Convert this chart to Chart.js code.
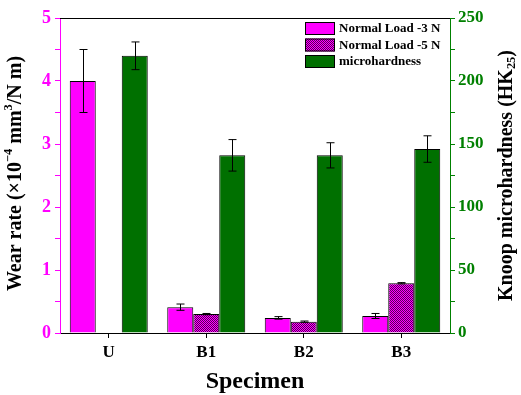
<!DOCTYPE html>
<html lang="en">
<head>
    <meta charset="UTF-8">
    <title>Wear rate and microhardness</title>
    <script src="https://cdnjs.cloudflare.com/ajax/libs/chart.js/4.4.1/chart.umd.min.js"></script>
    <style>
        html, body {
            margin: 0;
            padding: 0;
            background: #fff;
        }

        .canvas-container {
            position: relative;
            width: 521px;
            height: 395px;
        }
    </style>
</head>
<body>
    <div class="canvas-container">
        <canvas id="wearChart"></canvas>
    </div>

    <script>
        // Data
        const specimens = ['U', 'B1', 'B2', 'B3'];

        const wear3N = [4.0, 0.41, 0.24, 0.27];
        const wear3NErr = [0.5, 0.05, 0.02, 0.04];

        const wear5N = [null, 0.30, 0.18, 0.79];
        const wear5NErr = [0, 0.01, 0.01, 0.01];

        const hardness = [220, 141, 141, 146];
        const hardnessErr = [11, 12.5, 10, 10.5];

        const leftTicks = [0, 1, 2, 3, 4, 5];
        const rightTicks = [0, 50, 100, 150, 200, 250];

        const MAGENTA = '#ff00ff';
        const GREEN = '#007000';
        const GREEN_TEXT = '#008000';
        const SERIF = "'Liberation Serif', 'Times New Roman', serif";

        // checker pattern for the -5 N bars
        function makePattern() {
            const c = document.createElement('canvas');
            c.width = 2;
            c.height = 2;
            const g = c.getContext('2d');
            g.fillStyle = MAGENTA;
            g.fillRect(0, 0, 2, 2);
            g.fillStyle = '#5c005c';
            g.fillRect(0, 0, 1, 1);
            g.fillRect(1, 1, 1, 1);
            return g.createPattern(c, 'repeat');
        }
        const hatch = makePattern();

        // draws a title made of normal / sup / sub pieces, rotated -90deg
        function drawRichVertical(ctx, parts, cx, cy, size) {
            ctx.save();
            ctx.translate(cx, cy);
            ctx.rotate(-Math.PI / 2);
            ctx.textBaseline = 'middle';
            ctx.fillStyle = '#000';
            let total = 0;
            parts.forEach(p => {
                const s = p[1] ? size * 0.62 : size;
                ctx.font = 'bold ' + s + 'px ' + SERIF;
                total += ctx.measureText(p[0]).width;
            });
            let x = -total / 2;
            parts.forEach(p => {
                const s = p[1] ? size * 0.62 : size;
                ctx.font = 'bold ' + s + 'px ' + SERIF;
                let dy = 0;
                if (p[1] === 'sup') dy = -size * 0.35;
                if (p[1] === 'sub') dy = size * 0.25;
                ctx.textAlign = 'left';
                ctx.fillText(p[0], x, dy);
                x += ctx.measureText(p[0]).width;
            });
            ctx.restore();
        }

        const extrasPlugin = {
            id: 'extras',
            afterDatasetsDraw(chart) {
                const ctx = chart.ctx;
                const area = chart.chartArea;

                // error bars
                ctx.save();
                ctx.strokeStyle = '#000';
                ctx.lineWidth = 1;
                chart.data.datasets.forEach((ds, i) => {
                    const meta = chart.getDatasetMeta(i);
                    const scale = chart.scales[ds.yAxisID];
                    meta.data.forEach((bar, j) => {
                        const v = ds.data[j];
                        const e = ds.errors[j];
                        if (v == null || !e) return;
                        const x = Math.round(bar.x) + 0.5;
                        const yTop = scale.getPixelForValue(v + e);
                        const yBot = scale.getPixelForValue(v - e);
                        ctx.beginPath();
                        ctx.moveTo(x, yTop);
                        ctx.lineTo(x, yBot);
                        ctx.moveTo(x - 4, yTop);
                        ctx.lineTo(x + 4, yTop);
                        ctx.moveTo(x - 4, yBot);
                        ctx.lineTo(x + 4, yBot);
                        ctx.stroke();
                    });
                });

                // top frame line
                ctx.beginPath();
                ctx.moveTo(area.left, area.top + 0.5);
                ctx.lineTo(area.right, area.top + 0.5);
                ctx.stroke();

                // legend inside the plot
                const lx = 305, ly = 22;
                chart.data.datasets.forEach((ds, i) => {
                    const y = ly + i * 16.5;
                    ctx.fillStyle = ds.backgroundColor;
                    ctx.fillRect(lx, y, 30, 13);
                    ctx.strokeStyle = '#000';
                    ctx.strokeRect(lx + 0.5, y + 0.5, 29, 12);
                    ctx.fillStyle = '#000';
                    ctx.font = 'bold 13px ' + SERIF;
                    ctx.textAlign = 'left';
                    ctx.textBaseline = 'middle';
                    ctx.fillText(ds.label, lx + 34, y + 7);
                });
                ctx.restore();
            },
            afterDraw(chart) {
                const ctx = chart.ctx;
                const area = chart.chartArea;
                const mid = (area.top + area.bottom) / 2;
                drawRichVertical(ctx, [
                    ['Wear rate (\u00d710'], ['\u22124', 'sup'], [' mm'], ['3', 'sup'], ['/N m)']
                ], 16, mid - 2, 20);
                drawRichVertical(ctx, [
                    ['Knoop microhardness (HK'], ['25', 'sub'], [')']
                ], 507, mid, 20);
            }
        };

        new Chart(document.getElementById('wearChart'), {
            type: 'bar',
            data: {
                labels: specimens,
                datasets: [
                    {
                        label: 'Normal Load -3 N',
                        data: wear3N,
                        errors: wear3NErr,
                        yAxisID: 'y',
                        backgroundColor: MAGENTA,
                        borderColor: '#000',
                        borderWidth: 1
                    },
                    {
                        label: 'Normal Load -5 N',
                        data: wear5N,
                        errors: wear5NErr,
                        yAxisID: 'y',
                        backgroundColor: hatch,
                        borderColor: '#000',
                        borderWidth: 1
                    },
                    {
                        label: 'microhardness',
                        data: hardness,
                        errors: hardnessErr,
                        yAxisID: 'y2',
                        backgroundColor: GREEN,
                        borderColor: '#000',
                        borderWidth: 1
                    }
                ]
            },
            plugins: [extrasPlugin],
            options: {
                responsive: true,
                maintainAspectRatio: false,
                animation: false,
                datasets: {
                    bar: {
                        categoryPercentage: 0.8,
                        barPercentage: 1.0
                    }
                },
                layout: {
                    padding: { top: 18, left: 0, right: 0, bottom: 0 }
                },
                plugins: {
                    legend: { display: false },
                    tooltip: { enabled: false }
                },
                scales: {
                    x: {
                        afterFit(scale) { scale.height = 62; },
                        border: { color: '#000', width: 1 },
                        grid: {
                            offset: false,
                            drawOnChartArea: false,
                            color: '#000',
                            tickLength: 5
                        },
                        ticks: {
                            color: '#000',
                            padding: 4,
                            font: { family: SERIF, size: 17, weight: 'bold' }
                        },
                        title: {
                            display: true,
                            text: 'Specimen',
                            color: '#000',
                            padding: 0,
                            font: { family: SERIF, size: 24, weight: 'bold', lineHeight: 1.1 }
                        }
                    },
                    y: {
                        position: 'left',
                        min: leftTicks[0],
                        max: leftTicks[leftTicks.length - 1],
                        afterFit(scale) { scale.width = 60; },
                        border: { color: MAGENTA, width: 1 },
                        grid: {
                            drawOnChartArea: false,
                            color: MAGENTA,
                            tickLength: 5
                        },
                        ticks: {
                            stepSize: 0.5,
                            color: MAGENTA,
                            padding: 4,
                            font: { family: SERIF, size: 18, weight: 'bold' },
                            callback: v => leftTicks.includes(v) ? v : ''
                        }
                    },
                    y2: {
                        position: 'right',
                        min: rightTicks[0],
                        max: rightTicks[rightTicks.length - 1],
                        afterFit(scale) { scale.width = 71; },
                        border: { color: GREEN_TEXT, width: 1 },
                        grid: {
                            drawOnChartArea: false,
                            color: GREEN_TEXT,
                            tickLength: 5
                        },
                        ticks: {
                            stepSize: 25,
                            color: GREEN_TEXT,
                            padding: 3,
                            font: { family: SERIF, size: 17, weight: 'bold' },
                            callback: v => rightTicks.includes(v) ? v : ''
                        }
                    }
                }
            }
        });
    </script>
</body>
</html>
